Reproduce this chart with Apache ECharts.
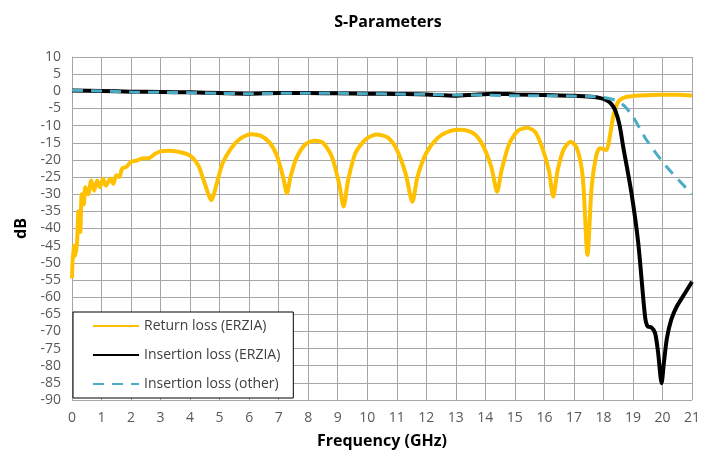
<!DOCTYPE html>
<html>
<head>
<meta charset="utf-8">
<script src="https://cdn.jsdelivr.net/npm/echarts@6/dist/echarts.min.js"></script>
<style>
html,body{margin:0;padding:0;background:#fff;}
#chart{width:708px;height:473px;}
</style>
</head>
<body>
<div id="chart"></div>
<script>
/*S参数数据 —— 从图上读取*/
var seriesNames = ["Return loss (ERZIA)", "Insertion loss (ERZIA)", "Insertion loss (other)"];

var rlFreq = [0, 0.05, 0.1, 0.17, 0.22, 0.28, 0.33, 0.4, 0.45, 0.55, 0.65, 0.75, 0.85, 0.95, 1.05, 1.15, 1.3, 1.4, 1.5, 1.6, 1.7, 1.85, 2.0, 2.2, 2.4, 2.6, 2.8, 3.0, 3.3, 3.6, 3.9, 4.1, 4.3, 4.5, 4.72, 4.9, 5.1, 5.4, 5.7, 6.07, 6.4, 6.7, 6.95, 7.15, 7.28, 7.4, 7.6, 7.9, 8.22, 8.5, 8.8, 9.05, 9.2, 9.35, 9.6, 9.95, 10.31, 10.7, 11.0, 11.3, 11.53, 11.7, 12.0, 12.4, 12.8, 13.2, 13.6, 13.9, 14.2, 14.4, 14.55, 14.8, 15.1, 15.42, 15.7, 15.95, 16.15, 16.3, 16.45, 16.65, 16.89, 17.1, 17.3, 17.46, 17.6, 17.75, 17.88, 18.1, 18.2, 18.33, 18.45, 18.56, 18.8, 19.24, 20, 20.5, 21];
var rlDb   = [-54.5, -45, -48, -44, -35, -41, -30, -33, -28, -30, -26, -29, -26, -28, -25.5, -27.5, -25.5, -27, -24.5, -25, -22.5, -22, -20.5, -20.2, -19.5, -19.5, -18.3, -17.5, -17.3, -17.6, -18.3, -19.5, -22, -27, -31.7, -27, -21, -16.5, -13.8, -12.5, -13, -15, -19, -25, -29.7, -25, -19.5, -15.5, -14.4, -15, -19, -27, -33.6, -26, -18, -14, -12.6, -13.5, -17, -24, -32.2, -25, -18, -13.5, -11.6, -11.2, -12.3, -15.5, -22, -29.3, -23, -15.5, -11.5, -10.6, -12, -17, -23, -30.7, -23, -17, -14.7, -16.5, -25, -47.7, -28, -19, -16.6, -17.1, -14, -7.4, -4, -2.5, -1.6, -1.2, -1, -1, -1.2];

var ilFreq = [0, 1, 2, 3, 4, 5, 6, 7, 8, 9, 10, 11, 12, 13, 13.6, 14.3, 15, 16, 17, 17.6, 17.9, 18.1, 18.25, 18.4, 18.55, 18.67, 18.95, 19.18, 19.41, 19.5, 19.62, 19.75, 19.85, 19.97, 20.05, 20.15, 20.3, 20.48, 20.76, 21];
var ilDb   = [0.2, 0.1, -0.1, -0.2, -0.3, -0.5, -0.7, -0.5, -0.5, -0.6, -0.7, -0.8, -0.9, -1.3, -1.0, -0.7, -0.9, -1.1, -1.3, -1.6, -2.0, -2.6, -3.5, -5.5, -10, -16.2, -29.7, -44.3, -65.7, -68.6, -68.8, -70.5, -76, -85.1, -79, -72, -66.5, -62.8, -58.9, -55.5];

var otherFreq = [0, 1, 2, 3, 4, 5, 6, 7, 8, 9, 10, 11, 12, 13, 14, 15, 16, 17, 17.6, 18, 18.4, 18.7, 19, 19.46, 20.14, 21];
var otherDb   = [0.3, 0.1, -0.2, -0.3, -0.4, -0.6, -0.7, -0.6, -0.6, -0.6, -0.7, -0.8, -0.9, -1.1, -1.1, -1.3, -1.3, -1.4, -1.5, -1.8, -2.6, -4.2, -7.4, -14.2, -22, -30];

var xMin = 0, xMax = 21, xStep = 1;
var yMin = -90, yMax = 10, yStep = 5;

function pairs(xs, ys){
    var out = [];
    for(var i=0;i<xs.length;i++){ out.push([xs[i], ys[i]]); }
    return out;
}

var font = "'Open Sans', 'Liberation Sans', sans-serif";
var myChart = echarts.init(document.getElementById('chart'));
myChart.setOption({
    animation:false,
    backgroundColor:'#fff',
    title:{
        text:'S-Parameters',
        left:383, top:9, textAlign:'center',
        textStyle:{fontFamily:font, fontSize:16, fontWeight:'bold', color:'#000'}
    },
    grid:{left:72, right:16, top:57, bottom:73, containLabel:false},
    legend:{
        orient:'vertical',
        left:73, top:312,
        padding:[7, 13, 7, 19],
        itemGap:15,
        itemWidth:46, itemHeight:14,
        backgroundColor:'#fff',
        borderColor:'#000', borderWidth:1,
        itemStyle:{opacity:0},
        textStyle:{fontFamily:font, fontSize:14, color:'#404040'},
        data:seriesNames
    },
    xAxis:{
        type:'value', min:xMin, max:xMax, interval:xStep,
        name:'Frequency (GHz)', nameLocation:'middle', nameGap:33,
        nameTextStyle:{fontFamily:font, fontSize:16, fontWeight:'bold', color:'#000'},
        axisLine:{show:true, lineStyle:{color:'#a6a6a6'}},
        axisTick:{show:false},
        axisLabel:{fontFamily:font, fontSize:14, color:'#595959', margin:11},
        splitLine:{show:true, lineStyle:{color:'#a6a6a6', width:1}}
    },
    yAxis:{
        type:'value', min:yMin, max:yMax, interval:yStep,
        name:'dB', nameLocation:'middle', nameGap:43, nameRotate:90,
        nameTextStyle:{fontFamily:font, fontSize:16, fontWeight:'bold', color:'#000'},
        axisLine:{show:true, lineStyle:{color:'#a6a6a6'}},
        axisTick:{show:false},
        axisLabel:{fontFamily:font, fontSize:14, color:'#595959', margin:11},
        splitLine:{show:true, lineStyle:{color:'#a6a6a6', width:1}}
    },
    series:[
        {
            name:seriesNames[0], type:'line', symbol:'none', smooth:0.25,
            lineStyle:{color:'#ffc000', width:4}, itemStyle:{color:'#ffc000'},
            data:pairs(rlFreq, rlDb)
        },
        {
            name:seriesNames[1], type:'line', symbol:'none', smooth:0.25,
            lineStyle:{color:'#000000', width:4}, itemStyle:{color:'#000000'},
            data:pairs(ilFreq, ilDb)
        },
        {
            name:seriesNames[2], type:'line', symbol:'none', smooth:0.25,
            lineStyle:{color:'#4bacc6', width:3, type:[11,8]}, itemStyle:{color:'#4bacc6'},
            data:pairs(otherFreq, otherDb)
        }
    ]
});
</script>
</body>
</html>
